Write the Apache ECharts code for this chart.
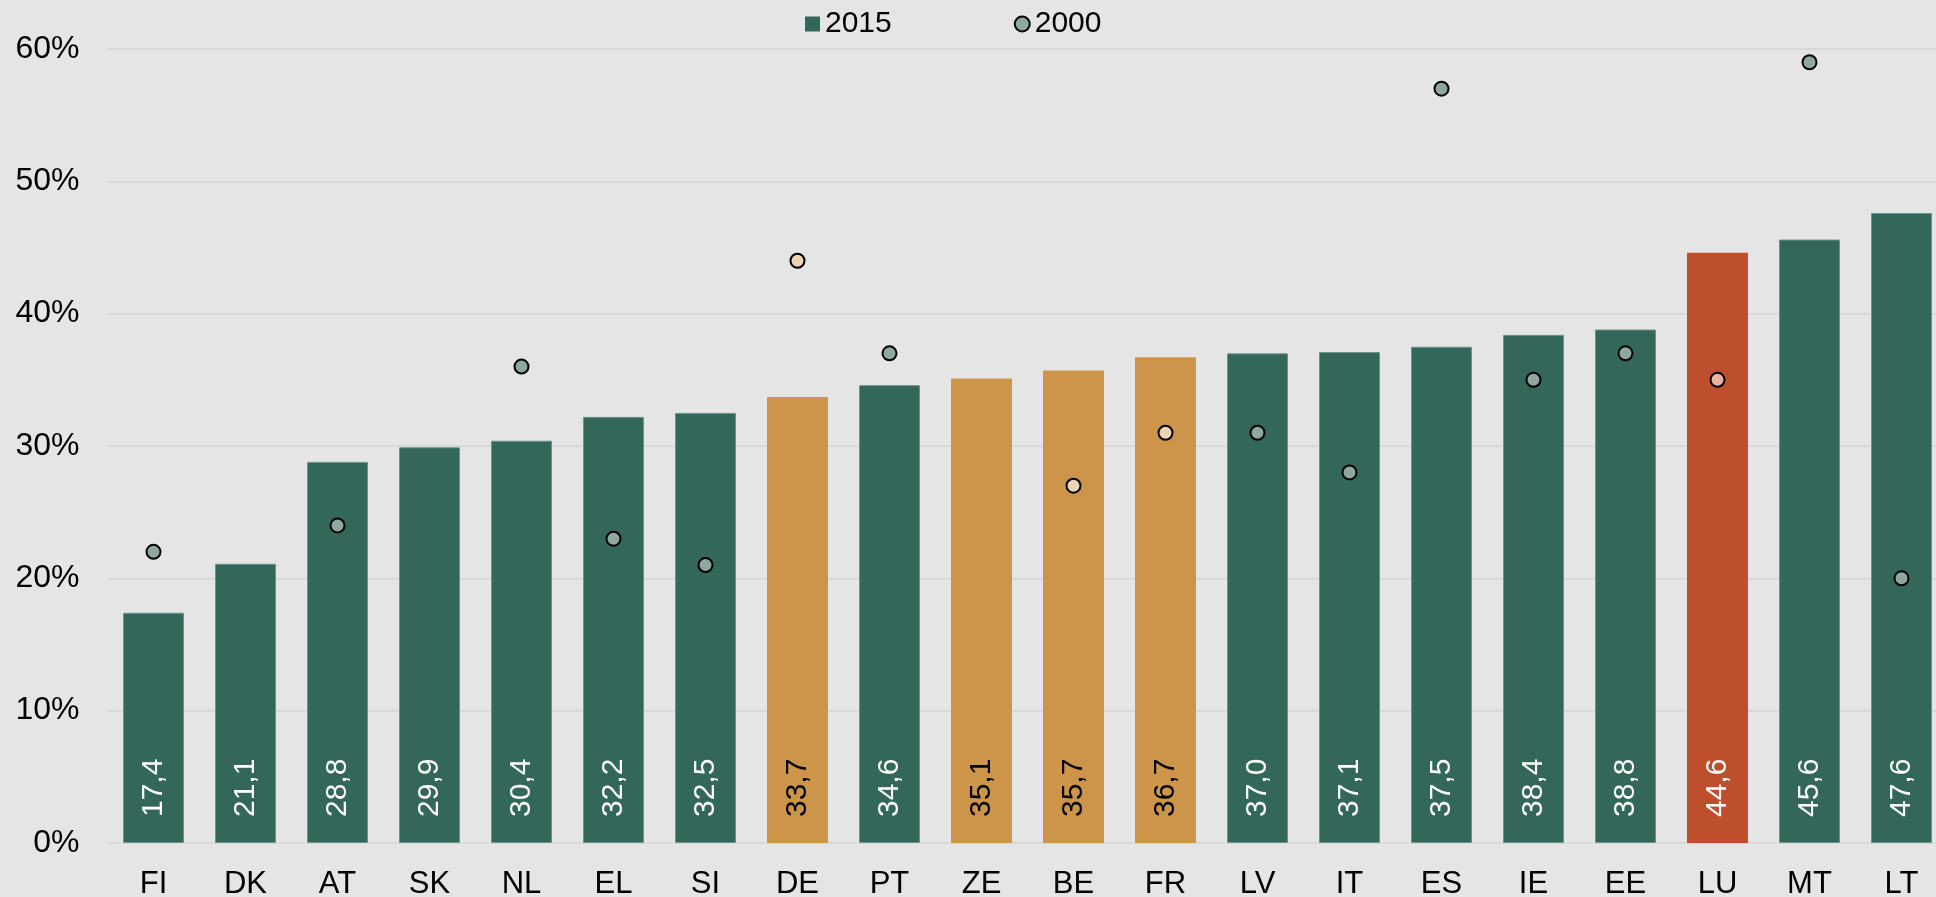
<!DOCTYPE html>
<html>
<head>
    <meta charset="UTF-8">
    <title>2015 / 2000</title>
    <script src="https://cdn.jsdelivr.net/npm/echarts@6/dist/echarts.min.js"></script>
    <style>
        html, body { margin: 0; padding: 0; background: #e5e5e5; }
    </style>
</head>
<body>
<div id="main" style="width: 1936px;height:897px;"></div>
<script type="text/javascript">
    // 数据
    var countries = ['FI', 'DK', 'AT', 'SK', 'NL', 'EL', 'SI', 'DE', 'PT', 'ZE',
        'BE', 'FR', 'LV', 'IT', 'ES', 'IE', 'EE', 'LU', 'MT', 'LT'];
    var values2015 = [17.4, 21.1, 28.8, 29.9, 30.4, 32.2, 32.5, 33.7, 34.6, 35.1,
        35.7, 36.7, 37.0, 37.1, 37.5, 38.4, 38.8, 44.6, 45.6, 47.6];
    var values2000 = [22, null, 24, null, 36, 23, 21, 44, 37, null,
        27, 31, 31, 28, 57, 35, 37, 35, 59, 20];
    var neighbours = ['DE', 'ZE', 'BE', 'FR'];
    var home = 'LU';
    var yTicks = [0, 10, 20, 30, 40, 50, 60];

    function barColor(c) {
        if (c === home) return '#be4f2d';
        if (neighbours.indexOf(c) >= 0) return '#cc9549';
        return '#32675a';
    }
    function dotColor(c) {
        if (c === home) return '#e9b3a0';
        if (neighbours.indexOf(c) >= 0) return '#ecd3b4';
        return '#8fa89f';
    }

    var font = 'Liberation Sans, Arial, sans-serif';
    var myChart = echarts.init(document.getElementById('main'));

    var barData = values2015.map(function (v, i) {
        var c = countries[i];
        var green = barColor(c) === '#32675a';
        return {
            value: v,
            itemStyle: {
                color: barColor(c),
                borderColor: green ? '#6c9488' : barColor(c),
                borderWidth: green ? 1 : 0
            },
            label: {color: neighbours.indexOf(c) >= 0 ? '#000' : '#fff'}
        };
    });
    var dotData = values2000.map(function (v, i) {
        return {
            value: v === null ? '-' : v,
            itemStyle: {color: dotColor(countries[i])}
        };
    });

    var option = {
        backgroundColor: '#e5e5e5',
        textStyle: {fontFamily: font},
        animation: false,
        legend: {
            left: 800,
            top: 4,
            itemWidth: 15,
            itemHeight: 15,
            itemGap: 122,
            textStyle: {fontSize: 30, color: '#000', fontFamily: font},
            data: [
                {name: '2015', icon: 'rect', itemStyle: {color: '#32675a', borderWidth: 0}},
                {name: '2000', icon: 'circle', itemStyle: {color: '#8fa89f', borderColor: '#000', borderWidth: 2}}
            ]
        },
        grid: {
            left: 107.5,
            width: 1840,
            top: 49,
            bottom: 54,
            containLabel: false,
            outerBoundsMode: 'none'
        },
        xAxis: {
            type: 'category',
            data: countries,
            axisTick: {show: false},
            axisLine: {lineStyle: {color: '#d8d8d8', width: 2}},
            axisLabel: {fontSize: 31, color: '#000', margin: 26, fontFamily: font}
        },
        yAxis: {
            type: 'value',
            min: yTicks[0],
            max: yTicks[yTicks.length - 1],
            interval: 10,
            axisLabel: {fontSize: 32, color: '#000', margin: 28, formatter: '{value}%', fontFamily: font},
            axisLine: {show: false},
            axisTick: {show: false},
            splitLine: {lineStyle: {color: '#d8d8d8', width: 2}}
        },
        series: [
            {
                name: '2015',
                type: 'bar',
                barWidth: 61,
                data: barData,
                label: {
                    show: true,
                    position: 'insideBottom',
                    rotate: 90,
                    align: 'left',
                    verticalAlign: 'middle',
                    distance: 26,
                    fontSize: 30,
                    fontFamily: font,
                    formatter: function (p) {
                        return p.value.toFixed(1).replace('.', ',');
                    }
                }
            },
            {
                name: '2000',
                type: 'scatter',
                symbol: 'circle',
                symbolSize: 14,
                data: dotData,
                itemStyle: {borderColor: '#000', borderWidth: 2, opacity: 1},
                z: 5
            }
        ]
    };
    myChart.setOption(option);
</script>
</body>
</html>
